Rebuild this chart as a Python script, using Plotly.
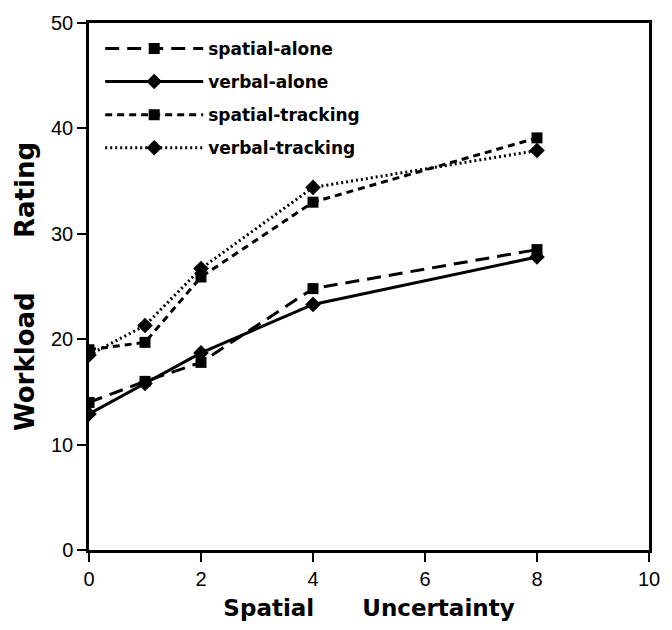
import plotly.graph_objects as go

x_vals = [0, 1, 2, 4, 8]
spatial_alone = [14.0, 16.0, 17.8, 24.8, 28.5]
verbal_alone = [12.9, 15.8, 18.7, 23.3, 27.8]
spatial_tracking = [19.0, 19.7, 25.9, 33.0, 39.1]
verbal_tracking = [18.5, 21.3, 26.7, 34.4, 37.9]

series = [
    ("spatial-alone", spatial_alone, "14px,8px", "square", 11),
    ("verbal-alone", verbal_alone, "solid", "diamond", 12),
    ("spatial-tracking", spatial_tracking, "7px,5px", "square", 11),
    ("verbal-tracking", verbal_tracking, "2px,3px", "diamond", 12),
]

fig = go.Figure()
for i, (name, vals, dash, sym, msize) in enumerate(series):
    fig.add_trace(go.Scatter(
        x=x_vals, y=vals, name=name, mode="lines+markers",
        line=dict(color="black", width=3, dash=dash),
        marker=dict(symbol=sym, size=msize, color="black"),
        legendgroup=f"g{i}",
    ))

fig.update_layout(
    width=672, height=630,
    margin=dict(l=89, r=15, t=18, b=77),
    paper_bgcolor="white", plot_bgcolor="white",
    font=dict(family="Liberation Sans, Arial, sans-serif", color="black"),
    showlegend=True,
    legend=dict(
        x=0.02, y=0.985, xanchor="left", yanchor="top",
        font=dict(family="DejaVu Sans", size=17, color="black", weight="bold"),
        bgcolor="rgba(0,0,0,0)", tracegroupgap=8, itemwidth=98,
    ),
    xaxis=dict(
        range=[0, 10], tickvals=[0, 2, 4, 6, 8, 10],
        showline=True, linecolor="black", linewidth=2.5, mirror=True,
        ticks="outside", ticklen=9, tickwidth=2, tickcolor="black",
        showgrid=False, zeroline=False,
        tickfont=dict(size=20, family="Liberation Sans"),
        title=dict(text="Spatial&nbsp;&nbsp;&nbsp;&nbsp;&nbsp;&nbsp;Uncertainty",
                   font=dict(family="DejaVu Sans", size=23, weight="bold"),
                   standoff=12),
    ),
    yaxis=dict(
        range=[0, 50], tickvals=[0, 10, 20, 30, 40, 50],
        showline=True, linecolor="black", linewidth=2.5, mirror=True,
        ticks="outside", ticklen=9, tickwidth=2, tickcolor="black",
        showgrid=False, zeroline=False,
        tickfont=dict(size=20, family="Liberation Sans"),
        title=dict(text="Workload&nbsp;&nbsp;&nbsp;&nbsp;&nbsp;&nbsp;Rating",
                   font=dict(family="DejaVu Sans", size=26, weight="bold"),
                   standoff=9),
    ),
)

fig.write_html("out.html")
